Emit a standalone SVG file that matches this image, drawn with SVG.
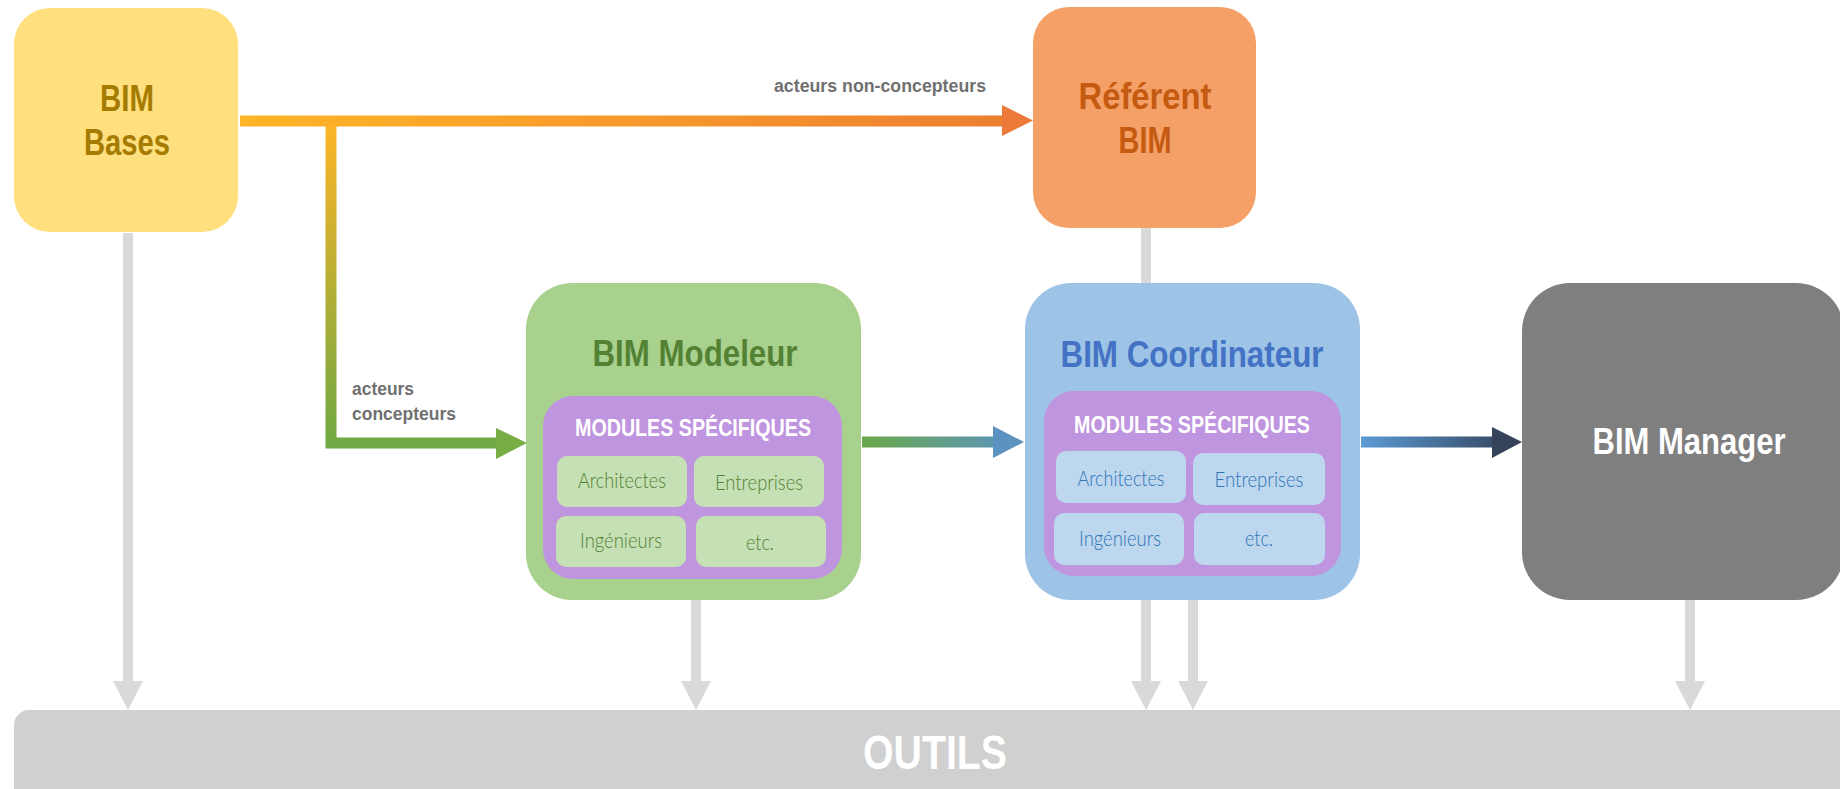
<svg xmlns="http://www.w3.org/2000/svg" width="1840" height="789" viewBox="0 0 1840 789">
<style>
.title{font-family:"Liberation Sans",Arial,sans-serif;font-weight:bold;font-size:36px;text-anchor:middle}
.mod{font-family:"Liberation Sans",Arial,sans-serif;font-weight:bold;font-size:24px;fill:#ffffff;text-anchor:middle}
.cell{font-family:Lato,"Liberation Sans",sans-serif;font-weight:300;font-size:21px;text-anchor:middle}
.lbl{font-family:"Liberation Sans",Arial,sans-serif;font-weight:bold;font-size:17.5px;fill:#707070}
.gl{stroke:#d9d9d9;stroke-width:10;fill:none}
.gh{fill:#d9d9d9}
.purple{fill:#c095df}
.gcell{fill:#c5e0b4}
.bcell{fill:#bdd7ee}
.gtxt{fill:#548235}
.btxt{fill:#2e75b6}
</style>
<defs>
<linearGradient id="gTop" gradientUnits="userSpaceOnUse" x1="240" y1="0" x2="1033" y2="0">
<stop offset="0" stop-color="#ffb527"/><stop offset="1" stop-color="#ed7d31"/>
</linearGradient>
<linearGradient id="gDown" gradientUnits="userSpaceOnUse" x1="0" y1="121" x2="0" y2="443">
<stop offset="0" stop-color="#ffb527"/><stop offset="1" stop-color="#70a843"/>
</linearGradient>
<linearGradient id="gMC" gradientUnits="userSpaceOnUse" x1="862" y1="0" x2="1024" y2="0">
<stop offset="0" stop-color="#6aa84a"/><stop offset="1" stop-color="#5b93c6"/>
</linearGradient>
<linearGradient id="gCM" gradientUnits="userSpaceOnUse" x1="1361" y1="0" x2="1522" y2="0">
<stop offset="0" stop-color="#5b9bd5"/><stop offset="1" stop-color="#333f55"/>
</linearGradient>
</defs>
<rect width="1840" height="789" fill="#ffffff"/>

<g id="connectors">
<path class="gl" d="M128,233 V681"/>
<polygon class="gh" points="113,681 143,681 128,710"/>
<path class="gl" d="M696,600 V681"/>
<polygon class="gh" points="681,681 711,681 696,710"/>
<path class="gl" d="M1146,228 V681"/>
<polygon class="gh" points="1131,681 1161,681 1146,710"/>
<path class="gl" d="M1193,600 V681"/>
<polygon class="gh" points="1178,681 1208,681 1193,710"/>
<path class="gl" d="M1690,600 V681"/>
<polygon class="gh" points="1675,681 1705,681 1690,710"/>

<path d="M331,121 V443 H497" fill="none" stroke="url(#gDown)" stroke-width="11"/>
<polygon points="496,428 527,443 496,459" fill="#78ad45"/>
<path d="M240,121 H1003" fill="none" stroke="url(#gTop)" stroke-width="11"/>
<polygon points="1002,105 1033,120.5 1002,136" fill="#ec7a3a"/>
<path d="M862,442 H994" fill="none" stroke="url(#gMC)" stroke-width="11"/>
<polygon points="993,426 1024,442 993,458" fill="#5b92c0"/>
<path d="M1361,442 H1493" fill="none" stroke="url(#gCM)" stroke-width="11"/>
<polygon points="1492,427 1522,442 1492,458" fill="#36435a"/>

<text class="lbl" x="774" y="92" textLength="212" lengthAdjust="spacingAndGlyphs">acteurs non-concepteurs</text>
<text class="lbl" x="352" y="395" textLength="62" lengthAdjust="spacingAndGlyphs">acteurs</text>
<text class="lbl" x="352" y="420" textLength="104" lengthAdjust="spacingAndGlyphs">concepteurs</text>
</g>

<g id="bim-bases">
<rect x="14" y="8" width="224" height="224" rx="36" fill="#ffdf7e"/>
<text class="title" x="127" y="111" fill="#a57c00" textLength="54" lengthAdjust="spacingAndGlyphs">BIM</text>
<text class="title" x="127" y="155" fill="#a57c00" textLength="86" lengthAdjust="spacingAndGlyphs">Bases</text>
</g>

<g id="referent-bim">
<rect x="1033" y="7" width="223" height="221" rx="36" fill="#f4a066"/>
<text class="title" x="1145" y="109" fill="#c55a11" textLength="133" lengthAdjust="spacingAndGlyphs">Référent</text>
<text class="title" x="1145" y="153" fill="#c55a11" textLength="53" lengthAdjust="spacingAndGlyphs">BIM</text>
</g>

<g id="bim-modeleur">
<rect x="526" y="283" width="335" height="317" rx="46" fill="#a9d18e"/>
<text class="title" x="695" y="366" fill="#548235" textLength="205" lengthAdjust="spacingAndGlyphs">BIM Modeleur</text>
<rect class="purple" x="543" y="396" width="299" height="183" rx="30"/>
<text class="mod" x="693" y="436" textLength="236" lengthAdjust="spacingAndGlyphs">MODULES SPÉCIFIQUES</text>
<rect class="gcell" x="557" y="456" width="130" height="51" rx="10"/>
<rect class="gcell" x="694" y="456" width="130" height="51" rx="10"/>
<rect class="gcell" x="556" y="516" width="130" height="51" rx="10"/>
<rect class="gcell" x="696" y="516" width="130" height="51" rx="10"/>
<text class="cell gtxt" x="622" y="488" textLength="88" lengthAdjust="spacingAndGlyphs">Architectes</text>
<text class="cell gtxt" x="759" y="490" textLength="88" lengthAdjust="spacingAndGlyphs">Entreprises</text>
<text class="cell gtxt" x="621" y="548" textLength="82" lengthAdjust="spacingAndGlyphs">Ingénieurs</text>
<text class="cell gtxt" x="760" y="550" textLength="28" lengthAdjust="spacingAndGlyphs">etc.</text>
</g>

<g id="bim-coordinateur">
<rect x="1025" y="283" width="335" height="317" rx="46" fill="#9dc3e6"/>
<text class="title" x="1192" y="367" fill="#4472c4" textLength="263" lengthAdjust="spacingAndGlyphs">BIM Coordinateur</text>
<rect class="purple" x="1044" y="391" width="297" height="185" rx="30"/>
<text class="mod" x="1192" y="433" textLength="236" lengthAdjust="spacingAndGlyphs">MODULES SPÉCIFIQUES</text>
<rect class="bcell" x="1056" y="451" width="130" height="52" rx="10"/>
<rect class="bcell" x="1193" y="453" width="132" height="52" rx="10"/>
<rect class="bcell" x="1054" y="513" width="130" height="52" rx="10"/>
<rect class="bcell" x="1194" y="513" width="131" height="52" rx="10"/>
<text class="cell btxt" x="1121" y="486" textLength="87" lengthAdjust="spacingAndGlyphs">Architectes</text>
<text class="cell btxt" x="1259" y="487" textLength="89" lengthAdjust="spacingAndGlyphs">Entreprises</text>
<text class="cell btxt" x="1120" y="546" textLength="82" lengthAdjust="spacingAndGlyphs">Ingénieurs</text>
<text class="cell btxt" x="1259" y="546" textLength="28" lengthAdjust="spacingAndGlyphs">etc.</text>
</g>

<g id="bim-manager">
<rect x="1522" y="283" width="322" height="317" rx="48" fill="#7f7f7f"/>
<text class="title" x="1689" y="454" fill="#ffffff" textLength="193" lengthAdjust="spacingAndGlyphs">BIM Manager</text>
</g>

<g id="outils">
<rect x="14" y="710" width="1840" height="110" rx="15" fill="#d0d0d0"/>
<text class="title" x="935" y="769" fill="#ffffff" font-size="49" textLength="144" lengthAdjust="spacingAndGlyphs" style="font-size:49px">OUTILS</text>
</g>
</svg>
